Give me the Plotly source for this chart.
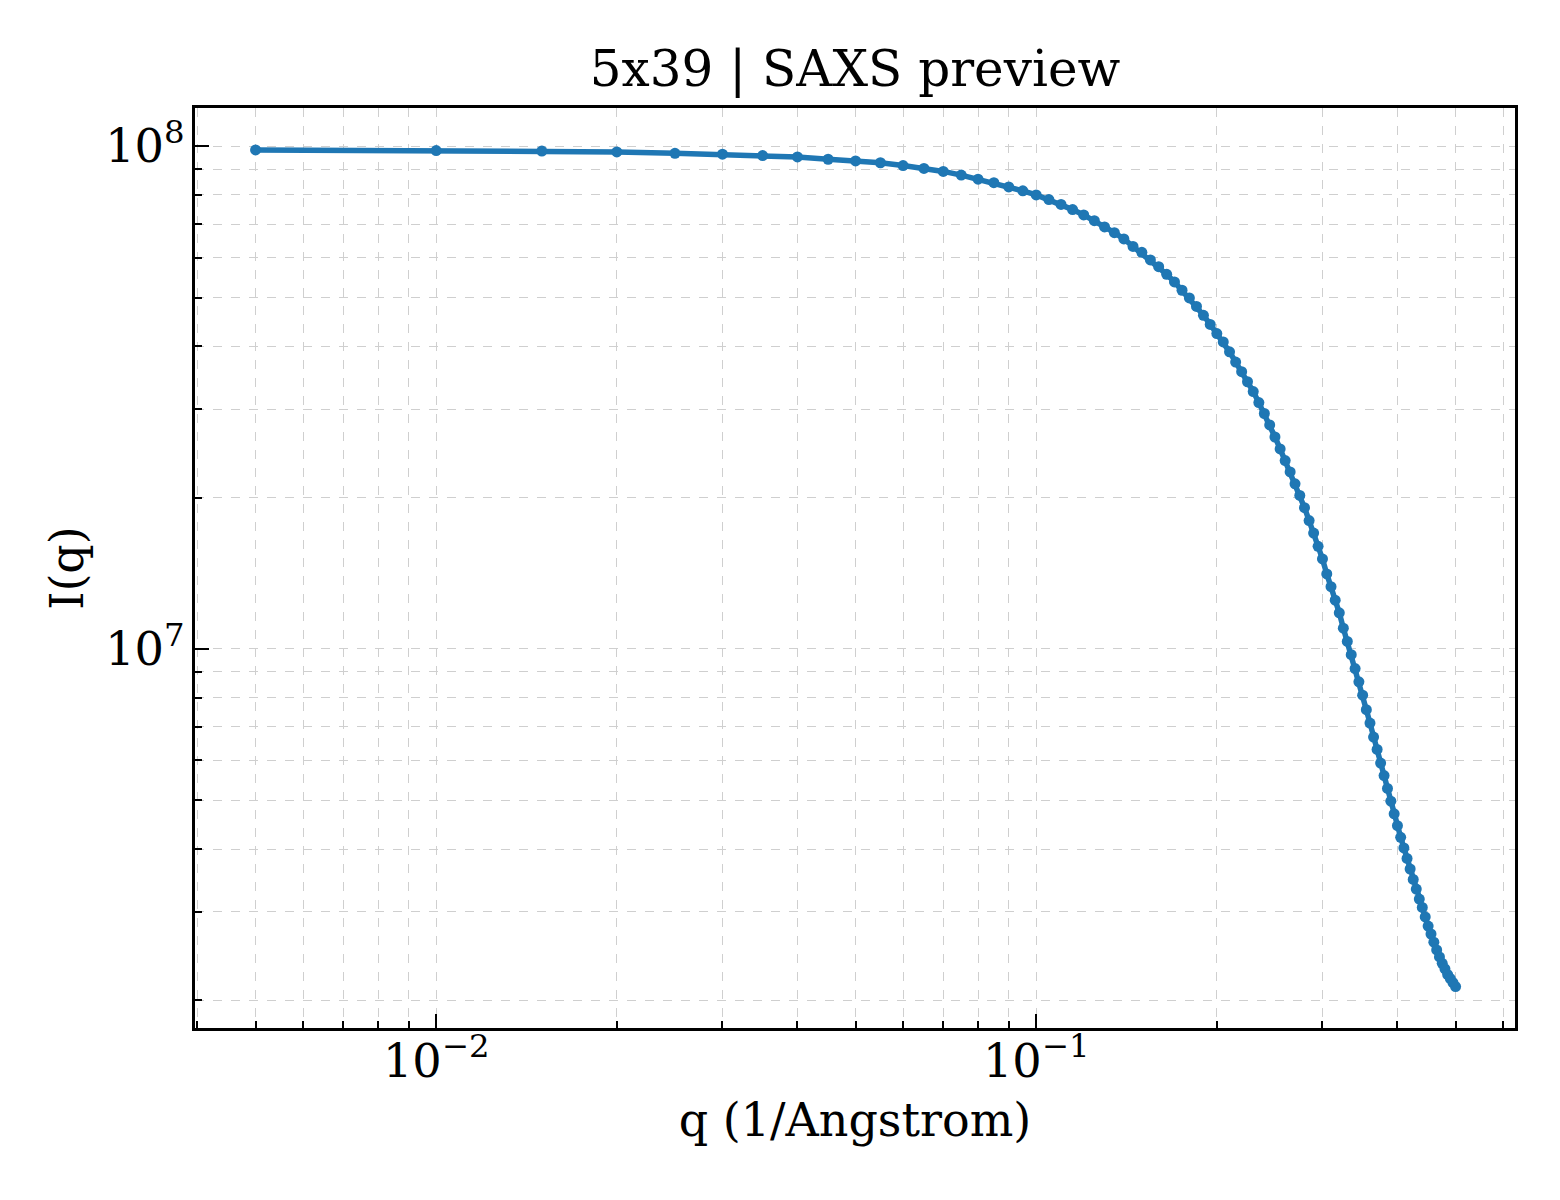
import plotly.graph_objects as go

q = [0.005, 0.010, 0.015, 0.020, 0.025, 0.030, 0.035, 0.040, 0.045, 0.050,
     0.055, 0.060, 0.065, 0.070, 0.075, 0.080, 0.085, 0.090, 0.095, 0.100,
     0.105, 0.110, 0.115, 0.120, 0.125, 0.130, 0.135, 0.140, 0.145, 0.150,
     0.155, 0.160, 0.165, 0.170, 0.175, 0.180, 0.185, 0.190, 0.195, 0.200,
     0.205, 0.210, 0.215, 0.220, 0.225, 0.230, 0.235, 0.240, 0.245, 0.250,
     0.255, 0.260, 0.265, 0.270, 0.275, 0.280, 0.285, 0.290, 0.295, 0.300,
     0.305, 0.310, 0.315, 0.320, 0.325, 0.330, 0.335, 0.340, 0.345, 0.350,
     0.355, 0.360, 0.365, 0.370, 0.375, 0.380, 0.385, 0.390, 0.395, 0.400,
     0.405, 0.410, 0.415, 0.420, 0.425, 0.430, 0.435, 0.440, 0.445, 0.450,
     0.455, 0.460, 0.465, 0.470, 0.475, 0.480, 0.485, 0.490, 0.495, 0.500]

intensity = [9.83e7, 9.80e7, 9.78e7, 9.74e7, 9.68e7, 9.64e7, 9.58e7, 9.52e7, 9.42e7, 9.35e7,
             9.27e7, 9.15e7, 9.03e7, 8.91e7, 8.76e7, 8.60e7, 8.46e7, 8.30e7, 8.15e7, 8.00e7,
             7.83e7, 7.66e7, 7.48e7, 7.30e7, 7.11e7, 6.91e7, 6.73e7, 6.54e7, 6.32e7, 6.15e7,
             5.94e7, 5.76e7, 5.56e7, 5.37e7, 5.17e7, 4.99e7, 4.80e7, 4.61e7, 4.42e7, 4.24e7,
             4.08e7, 3.90e7, 3.72e7, 3.56e7, 3.40e7, 3.25e7, 3.09e7, 2.94e7, 2.79e7, 2.64e7,
             2.50e7, 2.37e7, 2.25e7, 2.13e7, 2.02e7, 1.91e7, 1.80e7, 1.70e7, 1.60e7, 1.51e7,
             1.41e7, 1.33e7, 1.25e7, 1.18e7, 1.10e7, 1.035e7, 9.74e6, 9.14e6, 8.60e6, 8.09e6,
             7.57e6, 7.12e6, 6.68e6, 6.31e6, 5.93e6, 5.60e6, 5.28e6, 4.98e6, 4.70e6, 4.45e6,
             4.22e6, 4.02e6, 3.83e6, 3.65e6, 3.48e6, 3.33e6, 3.18e6, 3.06e6, 2.93e6, 2.81e6,
             2.71e6, 2.61e6, 2.52e6, 2.44e6, 2.37e6, 2.31e6, 2.25e6, 2.21e6, 2.17e6, 2.13e6]

FONT = "DejaVu Serif"
GRID = "#cfcfcf"

fig = go.Figure()
fig.add_trace(go.Scatter(x=q, y=intensity, mode="lines+markers",
                         line=dict(color="#1f77b4", width=5.5),
                         marker=dict(color="#1f77b4", size=11),
                         showlegend=False))

axis_style = dict(
    showline=True, linecolor="black", linewidth=3, mirror=True,
    ticks="inside", ticklen=14, tickwidth=2, tickcolor="black",
    showgrid=True, gridcolor=GRID, gridwidth=1, griddash="dash",
    zeroline=False, exponentformat="power",
    tickfont=dict(family=FONT, size=37, color="black"),
    minor=dict(ticks="inside", ticklen=7, tickwidth=1.5, tickcolor="black",
               showgrid=True, gridcolor=GRID, gridwidth=1, griddash="dash"),
)

fig.update_xaxes(type="log", range=[-2.402, -0.202], dtick=1, ticklabelstandoff=-8,
                 title=dict(text="q (1/Angstrom)", font=dict(family=FONT, size=46, color="black"),
                            standoff=18),
                 **axis_style)
fig.update_yaxes(type="log", range=[6.246, 8.076], dtick=1,
                 title=dict(text="I(q)", font=dict(family=FONT, size=46, color="black"),
                            standoff=8),
                 **axis_style)

# page has an 8px body margin, so the figure is a bit smaller than the window
fig.update_layout(
    width=1544, height=1184,
    margin=dict(l=187, r=37, t=100, b=164),
    paper_bgcolor="white", plot_bgcolor="white",
    title=dict(text="5x39 | SAXS preview", x=0.5486, xanchor="center",
               y=1 - 60 / 1184, yanchor="middle", yref="container",
               font=dict(family=FONT, size=50, color="black")),
)

fig.write_html("out.html")
